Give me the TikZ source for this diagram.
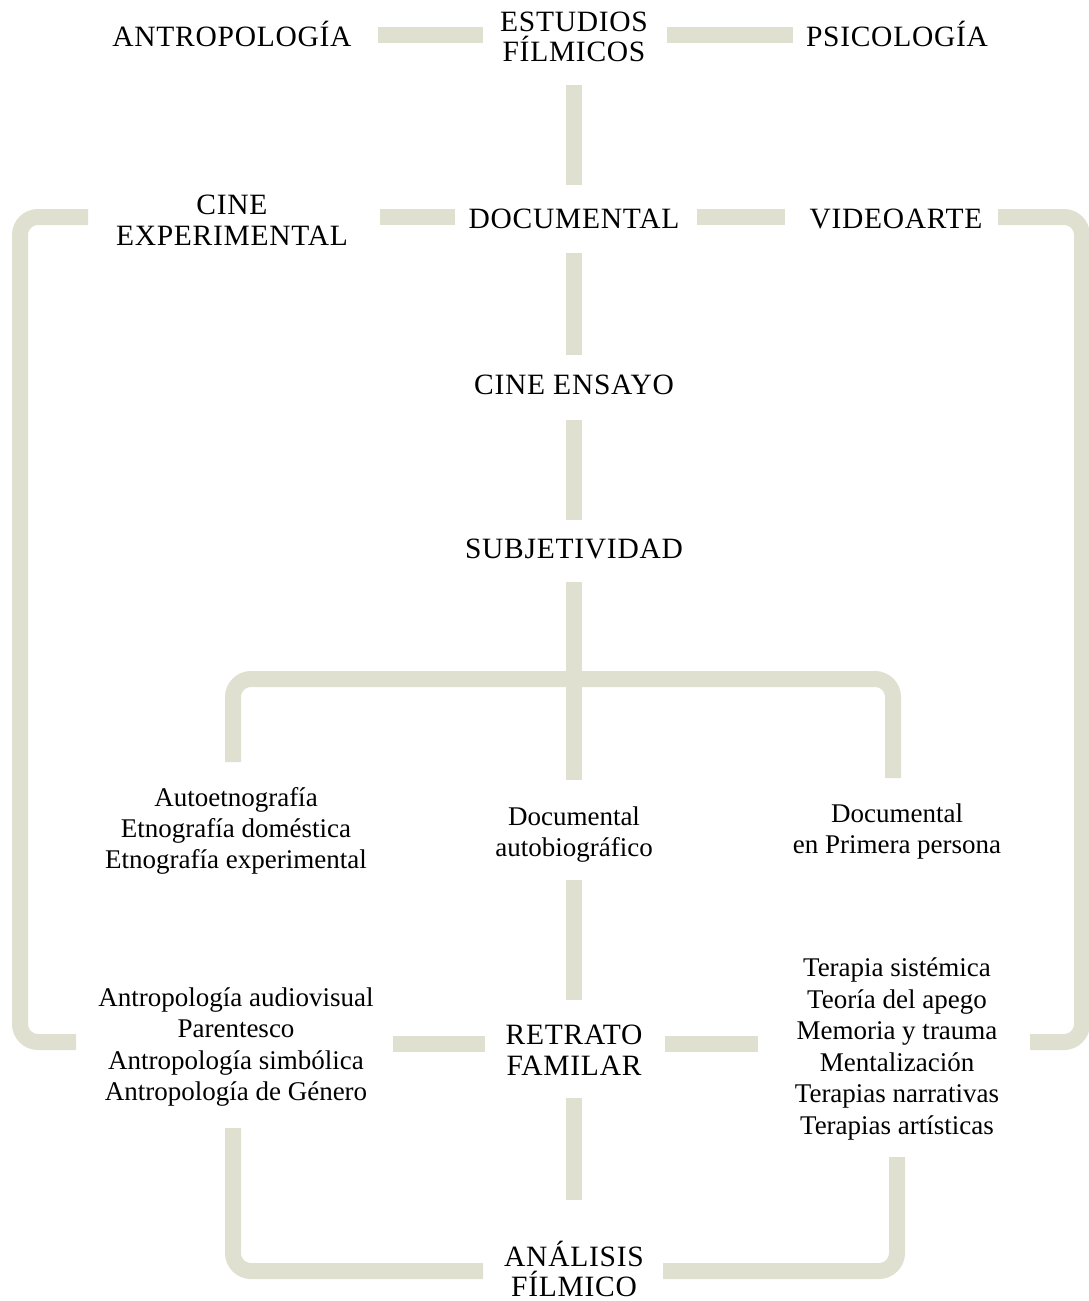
\documentclass[tikz,border=0pt]{standalone}
\usepackage{fontspec}
\setmainfont{Liberation Serif}
\newfontfamily\capsfont[LetterSpace=2.5]{Liberation Serif}
\definecolor{barc}{RGB}{223,224,208}
\begin{document}
\begin{tikzpicture}[x=1pt,y=-1pt,
  lbl/.style={font=\fontsize{27}{31}\selectfont, align=center, inner sep=0pt, text=black},
  lbltall/.style={lbl, font=\fontsize{27}{31.6}\selectfont},
  caps/.style={lbl, font=\capsfont\fontsize{29.5}{30.5}\selectfont},
  bar/.style={draw=barc, line width=16pt, line cap=butt, rounded corners=18pt}]
\useasboundingbox (0,0) rectangle (1089,1301);
% nodes
\node[caps] (antro) at (232,34) {ANTROPOLOGÍA};
\node[caps] (estud) at (574,37) {ESTUDIOS\\FÍLMICOS};
\node[caps] (psico) at (897,34) {PSICOLOGÍA};
\node[caps] (cineexp) at (232,220) {CINE\\EXPERIMENTAL};
\node[caps] (docu) at (574,219) {DOCUMENTAL};
\node[caps] (video) at (896,219) {VIDEOARTE};
\node[caps] (ensayo) at (574,385) {CINE ENSAYO};
\node[caps] (subj) at (574,549) {SUBJETIVIDAD};
\node[lbl] (auto) at (236,831) {Autoetnografía\\Etnografía doméstica\\Etnografía experimental};
\node[lbl] (docauto) at (574,835) {Documental\\autobiográfico};
\node[lbl] (primera) at (897,831) {Documental\\en Primera persona};
\node[lbltall] (antrob) at (236,1047) {Antropología audiovisual\\Parentesco\\Antropología simbólica\\Antropología de Género};
\node[caps] (retrato) at (574,1050) {RETRATO\\FAMILAR};
\node[lbltall] (terapia) at (897,1049) {Terapia sistémica\\Teoría del apego\\Memoria y trauma\\Mentalización\\Terapias narrativas\\Terapias artísticas};
\node[caps] (analisis) at (574,1269) {ANÁLISIS\\FÍLMICO};
% helper coordinates
\coordinate (row1) at (0,35);
\coordinate (row2) at (0,217);
\coordinate (row6) at (0,1044);
\coordinate (row7) at (0,1271);
\coordinate (lf1) at (20,217);
\coordinate (lf2) at (20,1042);
\coordinate (rf1) at (1082,217);
\coordinate (rf2) at (1082,1042);
\coordinate (tl) at (233,679);
\coordinate (tr) at (893,679);
\coordinate (bl) at (233,1271);
\coordinate (br) at (897,1271);
% connectors
\draw[bar, shorten <=146pt, shorten >=91pt] (antro.center |- row1) -- (estud.center |- row1);
\draw[bar, shorten <=93pt, shorten >=104pt] (estud.center |- row1) -- (psico.center |- row1);
\draw[bar, shorten <=48pt, shorten >=34pt] (estud.center) -- (docu.center);
\draw[bar, shorten <=119pt, shorten >=148pt] (docu.center |- row2) -- (cineexp.center |- row2);
\draw[bar, shorten <=123pt, shorten >=111pt] (docu.center |- row2) -- (video.center |- row2);
\draw[bar, shorten <=34pt, shorten >=30pt] (docu.center) -- (ensayo.center);
\draw[bar, shorten <=35pt, shorten >=29pt] (ensayo.center) -- (subj.center);
\draw[bar, shorten <=33pt, shorten >=55pt] (subj.center) -- (docauto.center);
\draw[bar, shorten <=69pt, shorten >=53pt] (tl |- auto.center) -- (tl) -- (tr) -- (tr |- primera.center);
\draw[bar, shorten <=45pt, shorten >=50pt] (docauto.center) -- (retrato.center);
\draw[bar, shorten <=48pt, shorten >=69pt] (retrato.center) -- (analisis.center);
\draw[bar, shorten <=89pt, shorten >=157pt] (retrato.center |- row6) -- (antrob.center |- row6);
\draw[bar, shorten <=91pt, shorten >=139pt] (retrato.center |- row6) -- (terapia.center |- row6);
\draw[bar, shorten <=144pt, shorten >=160pt] (cineexp.center |- row2) -- (lf1) -- (lf2) -- (antrob.center |- lf2);
\draw[bar, shorten <=102pt, shorten >=133pt] (video.center |- row2) -- (rf1) -- (rf2) -- (terapia.center |- rf2);
\draw[bar, shorten <=81pt, shorten >=91pt] (bl |- antrob.center) -- (bl) -- (analisis.center |- row7);
\draw[bar, shorten <=108pt, shorten >=89pt] (br |- terapia.center) -- (br) -- (analisis.center |- row7);
\end{tikzpicture}
\end{document}
